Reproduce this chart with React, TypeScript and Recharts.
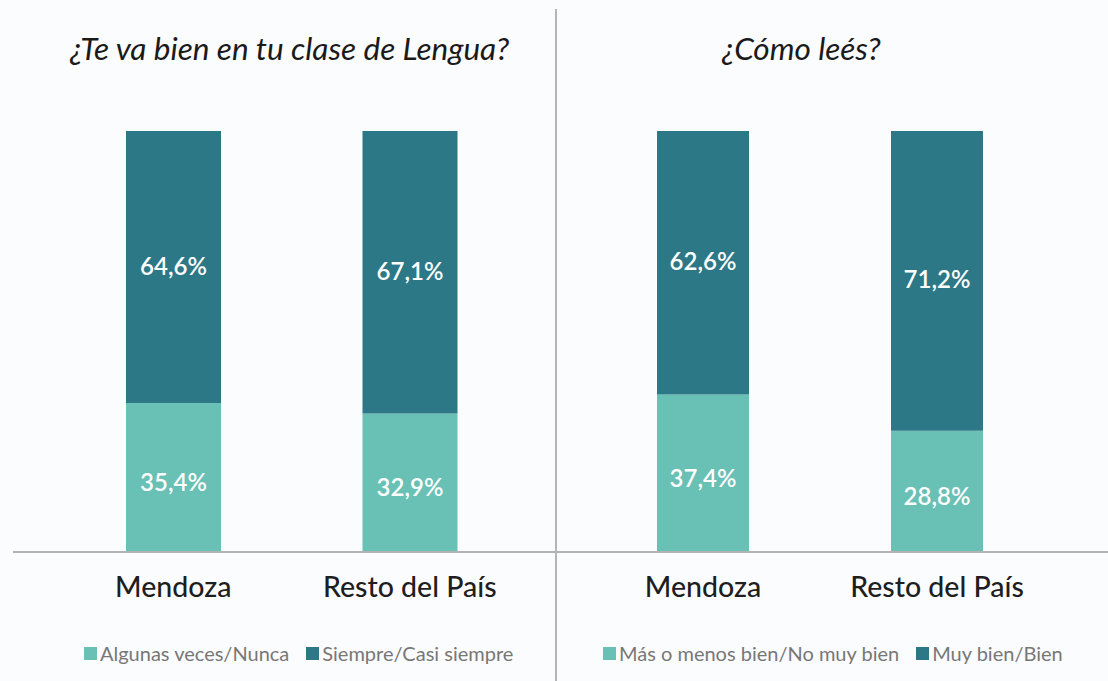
import React from "react";
import { BarChart, Bar, XAxis, YAxis, LabelList } from "recharts";

const categories = ["Mendoza", "Resto del País"];
const leftTitle = "¿Te va bien en tu clase de Lengua?";
const rightTitle = "¿Cómo leés?";
const leftSeriesNames = ["Algunas veces/Nunca", "Siempre/Casi siempre"];
const rightSeriesNames = ["Más o menos bien/No muy bien", "Muy bien/Bien"];
const leftLow = [35.4, 32.9];
const leftHigh = [64.6, 67.1];
const rightLow = [37.4, 28.8];
const rightHigh = [62.6, 71.2];

const LIGHT = "#69c0b4";
const DARK = "#2c7887";
const FONT = "Lato, 'Noto Sans', sans-serif";

const leftData = categories.map((c, i) => ({ name: c, low: leftLow[i], high: leftHigh[i] }));
const rightData = categories.map((c, i) => ({ name: c, low: rightLow[i], high: rightHigh[i] }));

const fmt = (v: any) => `${Number(v).toFixed(1).replace(".", ",")}%`;

function Panel({ data, width, padL, padR }: any) {
  return (
    <BarChart
      width={width}
      height={681}
      data={data}
      margin={{ top: 131, right: 0, bottom: 0, left: 0 }}
      barCategoryGap={71}
    >
      <YAxis hide domain={[0, 100]} />
      <XAxis
        dataKey="name"
        height={129}
        padding={{ left: padL, right: padR }}
        axisLine={{ stroke: "#b3b3b3", strokeWidth: 2 }}
        tickLine={false}
        tick={{ fill: "#1e1e1e", fontSize: 28.5, fontFamily: FONT, fontWeight: 500 }}
        tickMargin={19}
        interval={0}
      />
      <Bar dataKey="low" stackId="a" fill={LIGHT} isAnimationActive={false}>
        <LabelList dataKey="low" position="center" formatter={fmt} fill="#fff" fontSize={24} fontWeight={600} fontFamily={FONT} dy={5} />
      </Bar>
      <Bar dataKey="high" stackId="a" fill={DARK} isAnimationActive={false}>
        <LabelList dataKey="high" position="center" formatter={fmt} fill="#fff" fontSize={24} fontWeight={600} fontFamily={FONT} dy={-1} />
      </Bar>
    </BarChart>
  );
}

function LegendRow({ names, x, y }: any) {
  return (
    <div style={{ position: "absolute", left: x, top: y, display: "flex", alignItems: "center", fontFamily: FONT, fontSize: 20, color: "#777", whiteSpace: "nowrap" }}>
      <span style={{ display: "inline-block", width: 13, height: 13, background: LIGHT, marginRight: 3 }} />
      <span style={{ marginRight: 17 }}>{names[0]}</span>
      <span style={{ display: "inline-block", width: 13, height: 13, background: DARK, marginRight: 3 }} />
      <span>{names[1]}</span>
    </div>
  );
}

export default function App() {
  return (
    <div style={{ position: "absolute", left: 0, top: 0, width: 1108, height: 681, background: "#fbfcfd", overflow: "hidden" }}>
      <div style={{ position: "absolute", left: 13, top: 0 }}>
        <Panel data={leftData} width={544} padL={42} padR={29} />
      </div>
      <div style={{ position: "absolute", left: 556, top: 0 }}>
        <Panel data={rightData} width={552} padL={30} padR={54} />
      </div>
      <div style={{ position: "absolute", left: 555, top: 9, width: 2, height: 672, background: "#b5b5b5" }} />
      <div style={{ position: "absolute", left: 70, top: 29, fontFamily: FONT, fontStyle: "italic", fontSize: 31.5, color: "#1a1a1a", whiteSpace: "nowrap" }}>{leftTitle}</div>
      <div style={{ position: "absolute", left: 722, top: 29, fontFamily: FONT, fontStyle: "italic", fontSize: 31.5, color: "#1a1a1a", whiteSpace: "nowrap" }}>{rightTitle}</div>
      <LegendRow names={leftSeriesNames} x={84} y={641} />
      <LegendRow names={rightSeriesNames} x={603} y={641} />
    </div>
  );
}
